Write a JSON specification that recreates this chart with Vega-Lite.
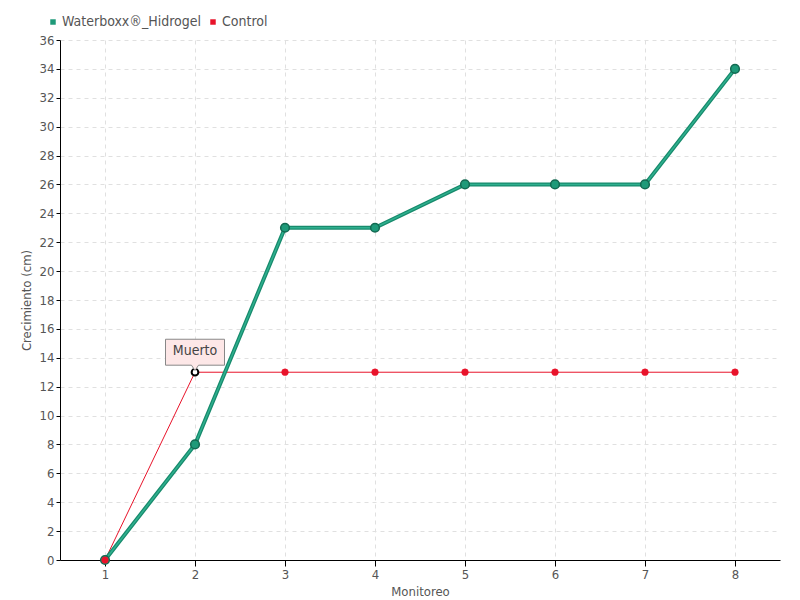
{
  "$schema": "https://vega.github.io/schema/vega-lite/v6.json",
  "width": 720,
  "height": 520,
  "autosize": {"type": "none"},
  "padding": {"left": 60, "top": 40, "right": 20, "bottom": 40},
  "background": "white",
  "config": {
    "font": "DejaVu Sans Condensed",
    "view": {"stroke": null},
    "axis": {
      "labelFont": "DejaVu Sans Condensed",
      "titleFont": "DejaVu Sans Condensed",
      "labelColor": "#555555",
      "titleColor": "#555555",
      "labelFontSize": 13,
      "titleFontSize": 13,
      "titleFontWeight": "normal",
      "domainColor": "#000000",
      "tickColor": "#000000",
      "gridColor": "#e0e0e0",
      "gridDash": [4, 4]
    }
  },
  "data": {
    "values": [
      {"serie": "Waterboxx®_Hidrogel", "monitoreo": 1, "crecimiento": 0},
      {"serie": "Waterboxx®_Hidrogel", "monitoreo": 2, "crecimiento": 8},
      {"serie": "Waterboxx®_Hidrogel", "monitoreo": 3, "crecimiento": 23},
      {"serie": "Waterboxx®_Hidrogel", "monitoreo": 4, "crecimiento": 23},
      {"serie": "Waterboxx®_Hidrogel", "monitoreo": 5, "crecimiento": 26},
      {"serie": "Waterboxx®_Hidrogel", "monitoreo": 6, "crecimiento": 26},
      {"serie": "Waterboxx®_Hidrogel", "monitoreo": 7, "crecimiento": 26},
      {"serie": "Waterboxx®_Hidrogel", "monitoreo": 8, "crecimiento": 34},
      {"serie": "Control", "monitoreo": 1, "crecimiento": 0, "estado": ""},
      {"serie": "Control", "monitoreo": 2, "crecimiento": 13, "estado": "Muerto"},
      {"serie": "Control", "monitoreo": 3, "crecimiento": 13, "estado": ""},
      {"serie": "Control", "monitoreo": 4, "crecimiento": 13, "estado": ""},
      {"serie": "Control", "monitoreo": 5, "crecimiento": 13, "estado": ""},
      {"serie": "Control", "monitoreo": 6, "crecimiento": 13, "estado": ""},
      {"serie": "Control", "monitoreo": 7, "crecimiento": 13, "estado": ""},
      {"serie": "Control", "monitoreo": 8, "crecimiento": 13, "estado": ""}
    ]
  },
  "encoding": {
    "x": {
      "field": "monitoreo", "type": "quantitative",
      "scale": {"domain": [0.5, 8.5], "nice": false, "zero": false},
      "axis": {"values": [1, 2, 3, 4, 5, 6, 7, 8], "title": "Monitoreo", "titlePadding": 4, "tickSize": 6, "labelPadding": 2}
    },
    "y": {
      "field": "crecimiento", "type": "quantitative",
      "scale": {"domain": [0, 36], "nice": false},
      "axis": {"values": [0,2,4,6,8,10,12,14,16,18,20,22,24,26,28,30,32,34,36], "title": "Crecimiento (cm)", "titlePadding": 6, "tickSize": 4, "labelPadding": 2}
    }
  },
  "layer": [
    {
      "transform": [{"filter": "datum.serie == 'Control'"}],
      "mark": {"type": "line", "color": "#e8132a", "strokeWidth": 1}
    },
    {
      "transform": [{"filter": "datum.serie != 'Control'"}],
      "mark": {"type": "line", "color": "#178a6c", "strokeWidth": 4}
    },
    {
      "transform": [{"filter": "datum.serie != 'Control'"}],
      "mark": {"type": "line", "color": "#2fb08f", "strokeWidth": 1.5}
    },
    {
      "transform": [{"filter": "datum.serie != 'Control'"}],
      "mark": {"type": "point", "filled": true, "size": 75, "opacity": 1, "stroke": "#136a52", "strokeWidth": 1.5},
      "encoding": {
        "color": {
          "field": "serie", "type": "nominal",
          "scale": {"domain": ["Waterboxx®_Hidrogel", "Control"], "range": ["#1e9a79", "#e8132a"]},
          "legend": {
            "title": null, "orient": "none", "legendX": -14, "legendY": -25,
            "direction": "horizontal", "symbolType": "square", "symbolSize": 30,
            "symbolStrokeWidth": 0, "labelFont": "DejaVu Sans Condensed", "labelFontSize": 14,
            "labelColor": "#555555", "labelOffset": 2, "columnPadding": 4
          }
        }
      }
    },
    {
      "transform": [{"filter": "datum.serie == 'Control'"}],
      "mark": {"type": "point", "filled": true, "size": 45, "opacity": 1},
      "encoding": {
        "color": {"field": "serie", "type": "nominal"},
        "fill": {"condition": {"test": "datum.estado == 'Muerto'", "value": "white"}, "value": "#e8132a"},
        "stroke": {"condition": {"test": "datum.estado == 'Muerto'", "value": "black"}, "value": "#e8132a"},
        "strokeWidth": {"condition": {"test": "datum.estado == 'Muerto'", "value": 2}, "value": 0.5}
      }
    },
    {
      "transform": [{"filter": "datum.estado == 'Muerto'"}],
      "mark": {
        "type": "point", "filled": true, "fill": "#fde7e7", "stroke": "#888888", "strokeWidth": 1,
        "opacity": 1, "size": 3481, "yOffset": -20,
        "shape": "M-1,-0.44L1,-0.44L1,0.44L0.12,0.44L0,0.62L-0.12,0.44L-1,0.44Z"
      }
    },
    {
      "transform": [{"filter": "datum.estado == 'Muerto'"}],
      "mark": {"type": "text", "fontSize": 14, "color": "#444444", "dy": -21, "font": "DejaVu Sans Condensed"},
      "encoding": {"text": {"field": "estado"}}
    }
  ]
}
